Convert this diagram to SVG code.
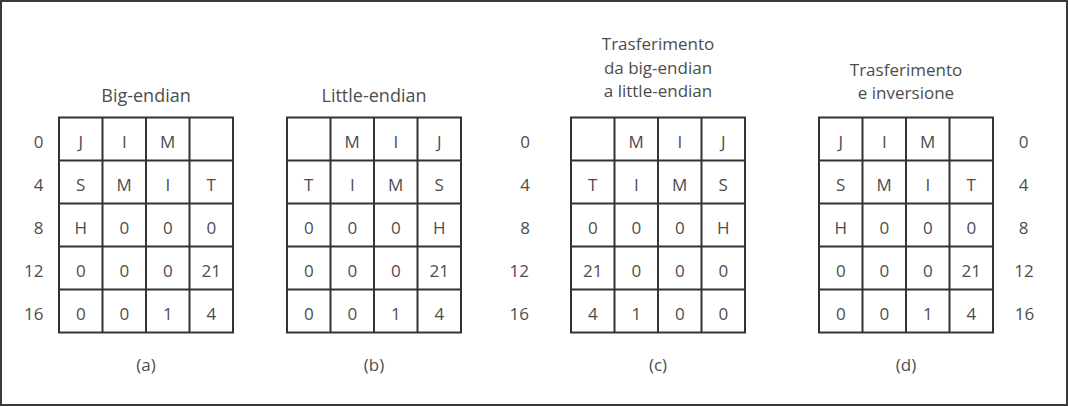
<svg xmlns="http://www.w3.org/2000/svg" width="1068" height="407" viewBox="0 0 1068 407">
<style>
.frame{fill:#fff;stroke:#3a3a3a;stroke-width:2}
.grid{fill:none;stroke:#333;stroke-width:2}
.t{font-family:"Open Sans","Liberation Sans",sans-serif;fill:#4d4d4d;font-size:17px;text-anchor:middle}
.ttl{font-family:"Open Sans","Liberation Sans",sans-serif;fill:#4d4d4d;font-size:18px;text-anchor:middle}
.ttl2{font-family:"Open Sans","Liberation Sans",sans-serif;fill:#4d4d4d;font-size:17px;text-anchor:middle}
.lbl{font-family:"Open Sans","Liberation Sans",sans-serif;fill:#4d4d4d;font-size:17px;text-anchor:end}
.lblm{font-family:"Open Sans","Liberation Sans",sans-serif;fill:#4d4d4d;font-size:17px;text-anchor:middle}
</style>
<defs>
<g id="gridlines">
<rect class="grid" x="0" y="0" width="174" height="215"/>
<path class="grid" d="M43.5 0V215M87 0V215M130.5 0V215M0 43H174M0 86H174M0 129H174M0 172H174"/>
</g>
</defs>
<rect class="frame" x="1" y="1" width="1066" height="404"/>

<g id="panel-a">
<text class="ttl" x="146" y="102">Big-endian</text>
<use href="#gridlines" x="59" y="117.5"/>
<g class="t">
<text x="80.75" y="148">J</text><text x="124.25" y="148">I</text><text x="167.75" y="148">M</text>
<text x="80.75" y="191">S</text><text x="124.25" y="191">M</text><text x="167.75" y="191">I</text><text x="211.25" y="191">T</text>
<text x="80.75" y="234">H</text><text x="124.25" y="234">0</text><text x="167.75" y="234">0</text><text x="211.25" y="234">0</text>
<text x="80.75" y="277">0</text><text x="124.25" y="277">0</text><text x="167.75" y="277">0</text><text x="211.25" y="277">21</text>
<text x="80.75" y="320">0</text><text x="124.25" y="320">0</text><text x="167.75" y="320">1</text><text x="211.25" y="320">4</text>
</g>
<g class="lbl">
<text x="43.5" y="148">0</text><text x="43.5" y="191">4</text><text x="43.5" y="234">8</text><text x="43.5" y="277">12</text><text x="43.5" y="320">16</text>
</g>
<text class="t" x="146" y="371">(a)</text>
</g>

<g id="panel-b">
<text class="ttl" x="374" y="102">Little-endian</text>
<use href="#gridlines" x="287" y="117.5"/>
<g class="t">
<text x="352.25" y="148">M</text><text x="395.75" y="148">I</text><text x="439.25" y="148">J</text>
<text x="308.75" y="191">T</text><text x="352.25" y="191">I</text><text x="395.75" y="191">M</text><text x="439.25" y="191">S</text>
<text x="308.75" y="234">0</text><text x="352.25" y="234">0</text><text x="395.75" y="234">0</text><text x="439.25" y="234">H</text>
<text x="308.75" y="277">0</text><text x="352.25" y="277">0</text><text x="395.75" y="277">0</text><text x="439.25" y="277">21</text>
<text x="308.75" y="320">0</text><text x="352.25" y="320">0</text><text x="395.75" y="320">1</text><text x="439.25" y="320">4</text>
</g>
<text class="t" x="374" y="371">(b)</text>
</g>

<g id="panel-c">
<text class="ttl2" x="658" y="50">Trasferimento</text>
<text class="ttl2" x="658" y="73.5">da big-endian</text>
<text class="ttl2" x="658" y="97">a little-endian</text>
<use href="#gridlines" x="571" y="117.5"/>
<g class="t">
<text x="636.25" y="148">M</text><text x="679.75" y="148">I</text><text x="723.25" y="148">J</text>
<text x="592.75" y="191">T</text><text x="636.25" y="191">I</text><text x="679.75" y="191">M</text><text x="723.25" y="191">S</text>
<text x="592.75" y="234">0</text><text x="636.25" y="234">0</text><text x="679.75" y="234">0</text><text x="723.25" y="234">H</text>
<text x="592.75" y="277">21</text><text x="636.25" y="277">0</text><text x="679.75" y="277">0</text><text x="723.25" y="277">0</text>
<text x="592.75" y="320">4</text><text x="636.25" y="320">1</text><text x="679.75" y="320">0</text><text x="723.25" y="320">0</text>
</g>
<g class="lbl">
<text x="530" y="148">0</text><text x="530" y="191">4</text><text x="530" y="234">8</text><text x="529" y="277">12</text><text x="529" y="320">16</text>
</g>
<text class="t" x="658" y="371">(c)</text>
</g>

<g id="panel-d">
<text class="ttl2" x="906" y="76">Trasferimento</text>
<text class="ttl2" x="906" y="99">e inversione</text>
<use href="#gridlines" x="819" y="117.5"/>
<g class="t">
<text x="840.75" y="148">J</text><text x="884.25" y="148">I</text><text x="927.75" y="148">M</text>
<text x="840.75" y="191">S</text><text x="884.25" y="191">M</text><text x="927.75" y="191">I</text><text x="971.25" y="191">T</text>
<text x="840.75" y="234">H</text><text x="884.25" y="234">0</text><text x="927.75" y="234">0</text><text x="971.25" y="234">0</text>
<text x="840.75" y="277">0</text><text x="884.25" y="277">0</text><text x="927.75" y="277">0</text><text x="971.25" y="277">21</text>
<text x="840.75" y="320">0</text><text x="884.25" y="320">0</text><text x="927.75" y="320">1</text><text x="971.25" y="320">4</text>
</g>
<g class="lblm">
<text x="1023.5" y="148">0</text><text x="1023.5" y="191">4</text><text x="1023.5" y="234">8</text><text x="1024" y="277">12</text><text x="1024.5" y="320">16</text>
</g>
<text class="t" x="906" y="371">(d)</text>
</g>
</svg>
